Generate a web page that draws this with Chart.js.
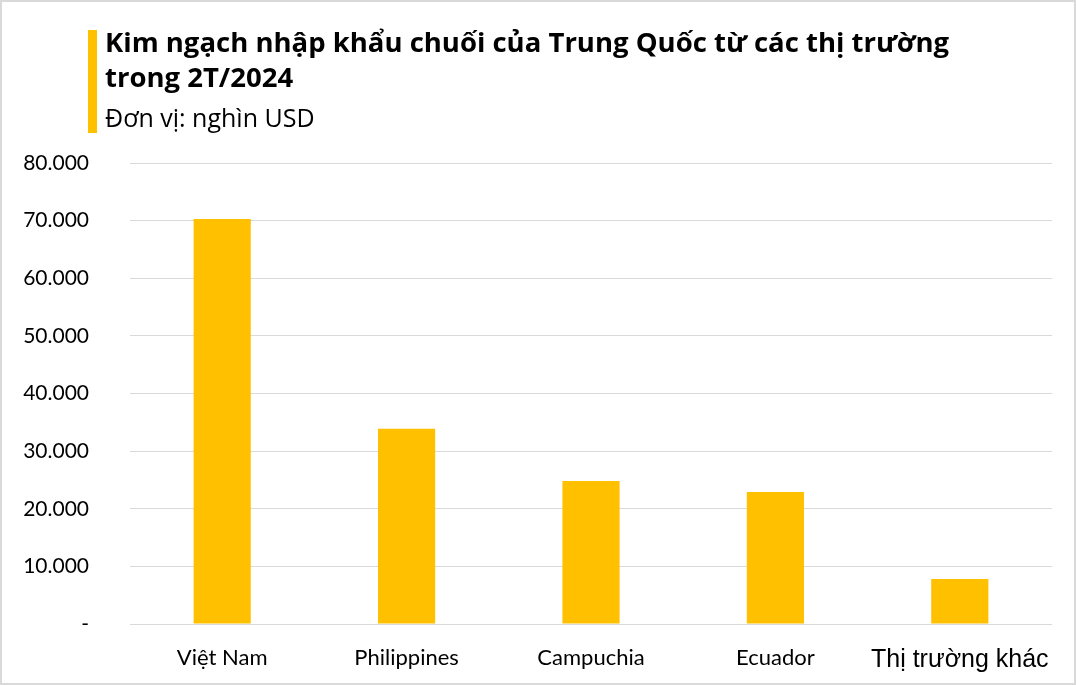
<!DOCTYPE html>
<html>
<head>
<meta charset="utf-8">
<script src="https://cdn.jsdelivr.net/npm/chart.js@4/dist/chart.umd.min.js"></script>
<style>
  html, body { margin: 0; padding: 0; background: #fff; }
  #wrap { position: relative; width: 1076px; height: 685px; overflow: hidden; }
  #frame { position: absolute; left: 0; top: 0; width: 1072px; height: 681px; border: 2px solid #d9d9d9; pointer-events: none; }
  #bar { position: absolute; left: 88px; top: 30px; width: 9px; height: 103px; background: #ffc000; }
  .t { position: absolute; left: 105px; font-family: 'Open Sans', sans-serif; color: #000; white-space: nowrap; }
  #t1 { top: 23px; font-size: 27.5px; font-weight: bold; }
  #t2 { top: 58px; font-size: 27.5px; font-weight: bold; }
  #t3 { top: 100px; font-size: 25px; }
</style>
</head>
<body>
<div id="wrap">
  <canvas id="chart" width="1076" height="685"></canvas>
  <div id="bar"></div>
  <div class="t" id="t1">Kim ngạch nhập khẩu chuối của Trung Quốc từ các thị trường</div>
  <div class="t" id="t2">trong 2T/2024</div>
  <div class="t" id="t3">Đơn vị: nghìn USD</div>
  <div id="frame"></div>
</div>
<script>
// dữ liệu (nghìn USD)
const markets = ['Việt Nam', 'Philippines', 'Campuchia', 'Ecuador', 'Thị trường khác'];
const importValues = [70300, 33900, 24800, 22900, 7800];
const yTicks = [0, 10000, 20000, 30000, 40000, 50000, 60000, 70000, 80000];

const ctx = document.getElementById('chart').getContext('2d');
new Chart(ctx, {
  type: 'bar',
  data: {
    labels: markets,
    datasets: [{
      data: importValues,
      backgroundColor: '#ffc000',
      categoryPercentage: 1,
      barPercentage: 0.31
    }]
  },
  options: {
    responsive: false,
    animation: false,
    layout: { padding: { top: 163, right: 24, left: 0, bottom: 0 } },
    plugins: { legend: { display: false }, tooltip: { enabled: false } },
    scales: {
      x: {
        grid: { display: false },
        border: { display: false },
        afterFit: s => { s.height = 61; },
        ticks: {
          padding: 13,
          color: '#000',
          maxRotation: 0,
          font: c => c.index === 4
            ? { family: 'Liberation Sans', size: 25 }
            : { family: 'Lato', size: 22 }
        }
      },
      y: {
        min: yTicks[0],
        max: yTicks[yTicks.length - 1],
        afterFit: s => { s.width = 130; },
        grid: { color: '#d9d9d9', drawTicks: false },
        border: { display: false },
        ticks: {
          stepSize: 10000,
          padding: 41,
          color: '#000',
          font: { family: 'Lato', size: 21 },
          callback: v => v === 0 ? '-' : v.toLocaleString('de-DE')
        }
      }
    }
  }
});
</script>
</body>
</html>
